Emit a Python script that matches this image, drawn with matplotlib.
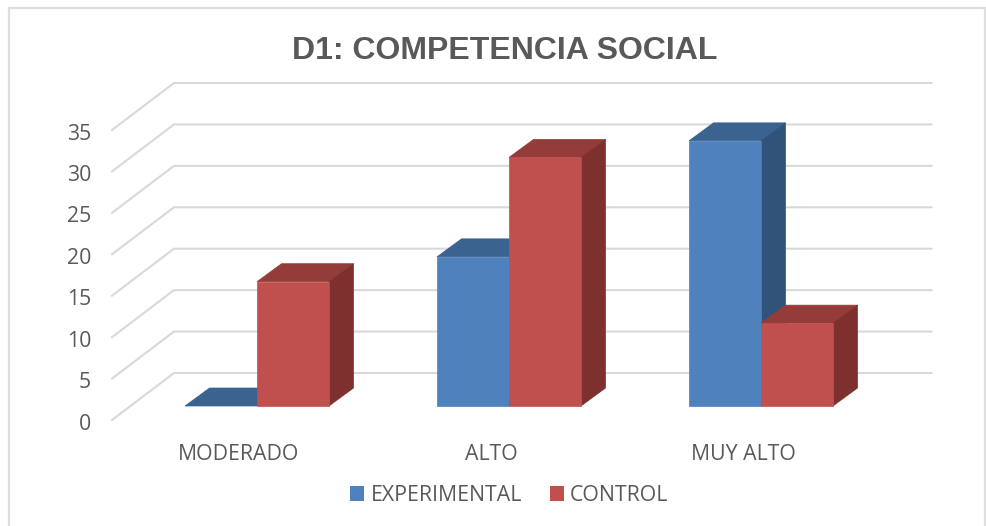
#!/usr/bin/env python3
import matplotlib
matplotlib.use("Agg")
import matplotlib.pyplot as plt
from matplotlib.patches import Polygon, Patch

categories = ["MODERADO", "ALTO", "MUY ALTO"]
experimental = [0, 18, 32]
control = [15, 30, 10]
y_ticks = [0, 5, 10, 15, 20, 25, 30, 35]

W, H = 987, 526
TEXT = "#595959"
GRID = "#D9D9D9"
BLUE = ("#4F81BD", "#3B6390", "#315379")
RED = ("#C0504D", "#943C39", "#7D302E")

plt.rcParams["font.family"] = ["Open Sans", "DejaVu Sans"]

fig = plt.figure(figsize=(W / 100, H / 100), dpi=100)
# axes = front plane of the bars, in pixels of the picture
left, right, bottom, top = 131, 887, 406, 116
ax = fig.add_axes([left / W, 1 - bottom / H, (right - left) / W, (bottom - top) / H])
ax.set_xlim(-0.5, 2.5)
ax.set_ylim(0, 35)
ax.axis("off")

px = 3 / (right - left)   # x data per pixel
py = 35 / (bottom - top)  # y data per pixel


def bar3d(x0, x1, v, colors):
    dx, dy = 24.5 * px, 18 * py
    kw = dict(closed=True, clip_on=False, zorder=3, lw=0.5)
    ax.add_patch(Polygon([(x0, v), (x1, v), (x1 + dx, v + dy), (x0 + dx, v + dy)],
                         fc=colors[1], ec=colors[1], **kw))
    if v > 0:
        ax.add_patch(Polygon([(x1, 0), (x1 + dx, dy), (x1 + dx, v + dy), (x1, v)],
                             fc=colors[2], ec=colors[2], **kw))
        ax.add_patch(Polygon([(x0, 0), (x1, 0), (x1, v), (x0, v)],
                             fc=colors[0], ec=colors[0], **kw))


# back wall lines with the diagonal on the left
x_front = -0.5 - 19 * px
x_back = -0.5 + 43 * px
x_end = -0.5 + (931.5 - left) * px
for v in y_ticks:
    ax.plot([x_front, x_back, x_end], [v - 14 * py, v + 33 * py, v + 33 * py],
            color=GRID, lw=1.5, clip_on=False, zorder=1, solid_joinstyle="miter")
    ax.text(-0.5 - 40 * px, v - 18 * py, str(v), ha="right", va="center",
            fontsize=15.3, color=TEXT)

bw = 72 * px
for i in range(len(categories)):
    bar3d(i - bw, i, experimental[i], BLUE)
    bar3d(i, i + bw, control[i], RED)
    ax.text(i - 18 * px, -48 * py, categories[i], ha="center", va="center",
            fontsize=15.3, color=TEXT)

fig.text(505 / W, 1 - 51 / H, "D1: COMPETENCIA SOCIAL", ha="center", va="center",
         fontsize=23, fontweight="bold", color=TEXT, family="Liberation Sans")

handles = [Patch(fc=BLUE[0], label="EXPERIMENTAL"), Patch(fc=RED[0], label="CONTROL")]
fig.legend(handles=handles, loc="center", bbox_to_anchor=(509.5 / W, 1 - 495.5 / H), ncol=2,
           frameon=False, fontsize=15.3, labelcolor=TEXT, handlelength=0.66, handleheight=0.66,
           handletextpad=0.3, columnspacing=1.3, borderpad=0)

# chart frame
fig.add_artist(plt.Rectangle((9 / W, -0.01), (985 - 9) / W, 1 - 8 / H + 0.01,
                             fill=False, ec="#DEDEDE", lw=1.6, transform=fig.transFigure))

fig.savefig("out.png", dpi=100)
